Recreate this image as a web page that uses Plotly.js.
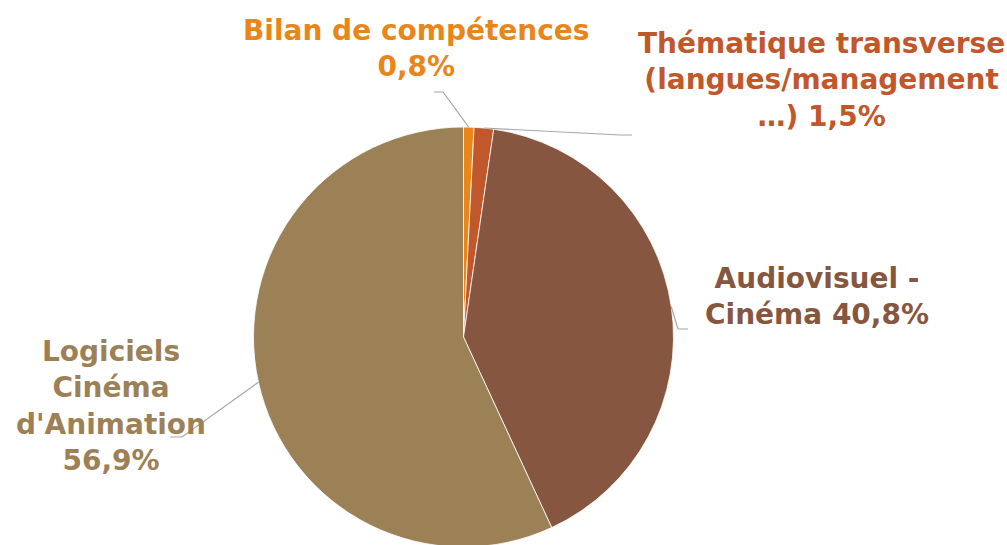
<!DOCTYPE html>
<html>
<head>
<meta charset="utf-8">
<script src="https://cdn.plot.ly/plotly-3.0.1.min.js"></script>
<style>
html,body{margin:0;padding:0;overflow:hidden;background:#fff;width:1007px;height:545px;}
#chart{width:1007px;height:560px;}
</style>
</head>
<body>
<div id="chart"></div>
<script>
// ---- data ----
const categories = ['Bilan de compétences', 'Thématique transverse (langues/management …)', 'Audiovisuel - Cinéma', "Logiciels Cinéma d'Animation"];
const values = [0.8, 1.5, 40.8, 56.9];
const labelLines = [
  ['Bilan de compétences'],
  ['Thématique transverse', '(langues/management', '…)'],
  ['Audiovisuel -', 'Cinéma'],
  ['Logiciels', 'Cinéma', "d'Animation"]
];
const colors = ['#E8861A', '#C0582B', '#865640', '#9C8156'];

// ---- layout geometry (pixels) ----
const W = 1007, H = 560;
const cx = 463.5, cy = 337, r = 210;
const px = x => x / W;
const py = y => (H - y) / H;

// label box centres and leader elbows/ends (pixels)
const labelPos = [[416, 48], [821, 80], [817, 296], [111, 406]];
const elbows = [[[443, 92], [434, 92]], [[620, 135], [632, 135]], [[678, 329], [688, 329]], [[182, 437], [170, 437]]];

const fmt = v => v.toFixed(1).replace('.', ',') + '%';

const total = values.reduce((a, b) => a + b, 0);
let cum = 0;
const annotations = [], shapes = [];
values.forEach((v, i) => {
  const midFrac = (cum + v / 2) / total;
  cum += v;
  const th = midFrac * 2 * Math.PI;
  const sx = cx + r * Math.sin(th), sy = cy - r * Math.cos(th);
  const e = elbows[i];
  shapes.push({
    type: 'path', xref: 'paper', yref: 'paper',
    path: `M ${px(sx)} ${py(sy)} L ${px(e[0][0])} ${py(e[0][1])} L ${px(e[1][0])} ${py(e[1][1])}`,
    line: {color: '#A6A6A6', width: 1.2}
  });
  const lines = labelLines[i].slice();
  const last = lines.length - 1;
  if (i === 0 || i === 3) lines.push(fmt(v)); else lines[last] = lines[last] + ' ' + fmt(v);
  annotations.push({
    xref: 'paper', yref: 'paper', x: px(labelPos[i][0]), y: py(labelPos[i][1]),
    xanchor: 'center', yanchor: 'middle', showarrow: false, align: 'center',
    text: lines.join('<br>'),
    font: {family: 'DejaVu Sans', size: 28, color: colors[i], weight: 'bold'}
  });
});

const trace = {
  type: 'pie',
  labels: categories,
  values: values,
  sort: false,
  direction: 'clockwise',
  rotation: 0,
  textinfo: 'none',
  hoverinfo: 'label+percent',
  marker: {colors: colors, line: {color: '#ffffff', width: 0.8}},
  domain: {x: [px(cx - r), px(cx + r)], y: [py(cy + r), py(cy - r)]},
  showlegend: false
};

Plotly.newPlot('chart', [trace], {
  width: W, height: H,
  margin: {l: 0, r: 0, t: 0, b: 0, pad: 0},
  paper_bgcolor: '#ffffff',
  showlegend: false,
  annotations: annotations,
  shapes: shapes
}, {displayModeBar: false, staticPlot: true});
</script>
</body>
</html>
